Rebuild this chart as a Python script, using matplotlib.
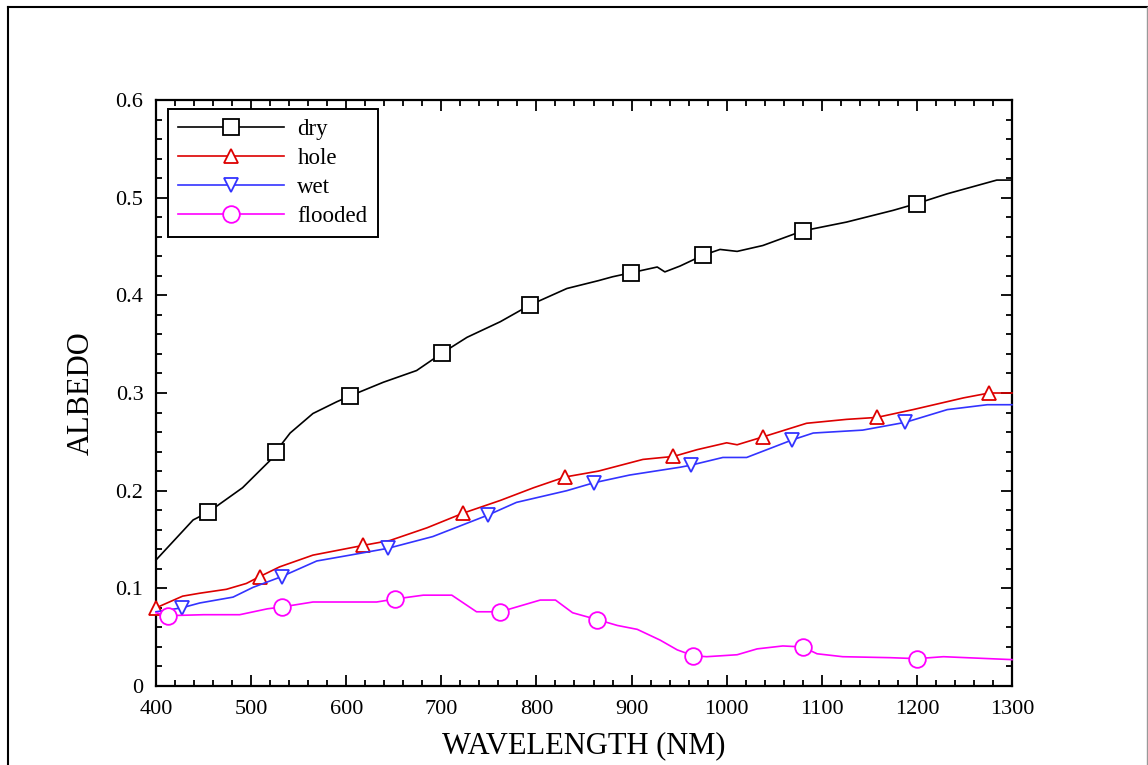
import matplotlib
matplotlib.use("Agg")
import matplotlib.pyplot as plt
from matplotlib.lines import Line2D
from matplotlib.ticker import MultipleLocator

# ---------------- data ----------------
dry_wl = [400, 439, 455, 491, 520, 526, 541, 565, 590, 604, 639, 674, 701, 727, 762, 793,
          832, 865, 880, 899, 927, 935, 951, 975, 993, 1011, 1038, 1080, 1126, 1175, 1200,
          1232, 1284, 1300]
dry_val = [0.129, 0.170, 0.178, 0.203, 0.231, 0.240, 0.259, 0.279, 0.291, 0.297, 0.311, 0.323,
           0.341, 0.357, 0.373, 0.390, 0.407, 0.415, 0.419, 0.423, 0.429, 0.424, 0.430, 0.441,
           0.447, 0.445, 0.451, 0.466, 0.475, 0.487, 0.494, 0.504, 0.518, 0.518]
dry_marks = [455, 526, 604, 701, 793, 899, 975, 1080, 1200]

hole_wl = [400, 428, 446, 474, 495, 509, 530, 565, 618, 646, 685, 723, 762, 797, 830, 865,
           912, 933, 944, 969, 1000, 1011, 1038, 1084, 1126, 1158, 1196, 1249, 1276, 1300]
hole_val = [0.080, 0.092, 0.095, 0.099, 0.105, 0.112, 0.122, 0.134, 0.144, 0.149, 0.162, 0.177,
            0.190, 0.203, 0.214, 0.220, 0.232, 0.234, 0.235, 0.242, 0.249, 0.247, 0.255, 0.269,
            0.273, 0.275, 0.283, 0.295, 0.300, 0.300]
hole_marks = [400, 509, 618, 723, 830, 944, 1038, 1158, 1276]

wet_wl = [400, 427, 446, 481, 502, 532, 569, 604, 644, 691, 749, 779, 832, 860, 898, 951, 962,
          996, 1021, 1069, 1091, 1143, 1188, 1232, 1274, 1300]
wet_val = [0.076, 0.080, 0.085, 0.091, 0.101, 0.112, 0.128, 0.134, 0.141, 0.153, 0.175, 0.188,
           0.200, 0.208, 0.216, 0.224, 0.226, 0.234, 0.234, 0.252, 0.259, 0.262, 0.270, 0.283,
           0.288, 0.288]
wet_marks = [427, 532, 644, 749, 860, 962, 1069, 1188]

flooded_wl = [400, 413, 450, 488, 517, 533, 565, 632, 651, 681, 711, 737, 762, 804, 820, 838,
              849, 864, 885, 906, 930, 948, 965, 979, 1011, 1032, 1059, 1080, 1095, 1122, 1172,
              1200, 1228, 1300]
flooded_val = [0.075, 0.072, 0.073, 0.073, 0.079, 0.081, 0.086, 0.086, 0.089, 0.093, 0.093,
               0.076, 0.076, 0.088, 0.088, 0.075, 0.072, 0.068, 0.062, 0.058, 0.047, 0.037,
               0.031, 0.030, 0.032, 0.038, 0.041, 0.040, 0.033, 0.030, 0.029, 0.028, 0.030,
               0.027]
flooded_marks = [413, 533, 651, 762, 864, 965, 1080, 1200]

series_names = ["dry", "hole", "wet", "flooded"]
x_ticks = [400, 500, 600, 700, 800, 900, 1000, 1100, 1200, 1300]
x_tick_labels = ["400", "500", "600", "700", "800", "900", "1000", "1100", "1200", "1300"]
y_ticks = [0, 0.1, 0.2, 0.3, 0.4, 0.5, 0.6]
y_tick_labels = ["0", "0.1", "0.2", "0.3", "0.4", "0.5", "0.6"]

# ---------------- plot ----------------
plt.rcParams['font.family'] = ['Liberation Serif', 'DejaVu Serif']

W, H = 1148, 765
fig = plt.figure(figsize=(W / 100, H / 100), dpi=100)
ax = fig.add_axes([156 / W, 1 - 686 / H, (1012 - 156) / W, (686 - 100) / H])

styles = [
    dict(color="black", marker="s", ms=11),
    dict(color="#dd0000", marker="^", ms=10),
    dict(color="#3333ff", marker="v", ms=10),
    dict(color="#ff00ff", marker="o", ms=12),
]
data = [(dry_wl, dry_val, dry_marks), (hole_wl, hole_val, hole_marks),
        (wet_wl, wet_val, wet_marks), (flooded_wl, flooded_val, flooded_marks)]

handles = []
for name, (wl, val, marks), st in zip(series_names, data, styles):
    idx = [wl.index(m) for m in marks]
    ax.plot(wl, val, color=st["color"], lw=1.2, marker=st["marker"], ms=st["ms"],
            markevery=idx, mfc="white", mec=st["color"], mew=1.3, clip_on=False, zorder=3)
    handles.append(Line2D([], [], color=st["color"], lw=1.2, marker=st["marker"], ms=st["ms"],
                          mfc="white", mec=st["color"], mew=1.3))

ax.set_xlim(400, 1300)
ax.set_ylim(0, 0.6)
ax.set_xticks(x_ticks)
ax.set_xticklabels(x_tick_labels)
ax.set_yticks(y_ticks)
ax.set_yticklabels(y_tick_labels)
ax.xaxis.set_minor_locator(MultipleLocator(20))
ax.yaxis.set_minor_locator(MultipleLocator(0.02))
ax.tick_params(which="both", direction="in", top=True, right=True, width=1.3,
               labelsize=16, colors="black")
ax.tick_params(which="major", length=8)
ax.tick_params(which="minor", length=4.5)
ax.tick_params(axis="y", pad=9)
ax.tick_params(axis="x", pad=10)
for sp in ax.spines.values():
    sp.set_linewidth(1.6)

ax.set_xlabel("WAVELENGTH (NM)", fontsize=22, labelpad=9)
ax.set_ylabel("ALBEDO", fontsize=22, labelpad=14)

leg = ax.legend(handles, series_names, loc="upper left", bbox_to_anchor=(0.014, 0.985),
                borderaxespad=0, fontsize=16.5, handlelength=4.6, handletextpad=0.6,
                labelspacing=0.34, borderpad=0.45, fancybox=False, framealpha=1,
                edgecolor="black")
leg.get_frame().set_linewidth(1.4)

# figure border
fig.add_artist(Line2D([8 / W, 8 / W], [0, 1 - 7 / H], color="black", lw=1.5,
                      transform=fig.transFigure))
fig.add_artist(Line2D([8 / W, 1147 / W], [1 - 7 / H, 1 - 7 / H], color="black", lw=1.5,
                      transform=fig.transFigure))
fig.add_artist(Line2D([1146.5 / W, 1146.5 / W], [0, 1 - 7 / H], color="#999999", lw=1,
                      transform=fig.transFigure))

fig.savefig("out.png", dpi=100)
